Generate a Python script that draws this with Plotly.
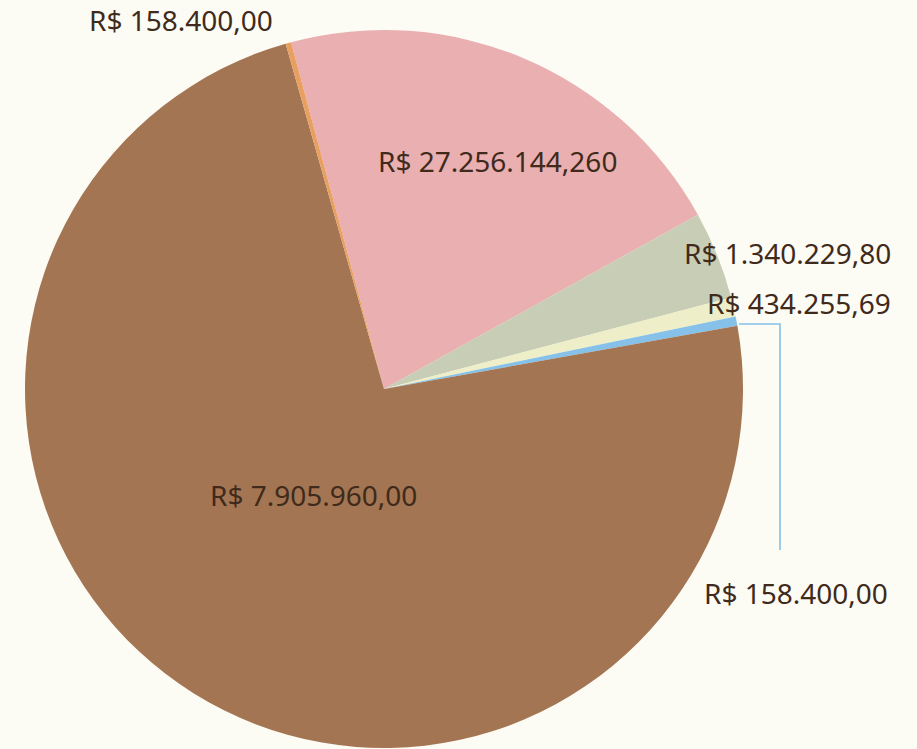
import plotly.graph_objects as go

labels = ["Pink", "Sage", "Cream", "Blue", "Brown", "Orange"]
values = [21.1, 3.97, 0.86, 0.42, 73.4, 0.25]
texts = ["R$ 27.256.144,260", "R$ 1.340.229,80", "R$ 434.255,69",
         "R$ 158.400,00", "R$ 7.905.960,00", "R$ 158.400,00"]
colors = ["#eaafb0", "#c8cdb5", "#eeefc8", "#85c1e9", "#a47552", "#e8a062"]

W, H = 917, 749
CX, CY, R = 384, 389, 359  # pie centre and radius in pixels
TEXT_COLOR = "#3f2a1b"

fig = go.Figure(go.Pie(
    labels=labels,
    values=values,
    textinfo="none",
    sort=False,
    direction="clockwise",
    rotation=-15,
    marker=dict(colors=colors, line=dict(width=0)),
    hoverinfo="label+value",
    domain=dict(x=[(CX - R) / W, (CX + R) / W],
                y=[1 - (CY + R) / H, 1 - (CY - R) / H]),
))

# label placements (pixel anchor, x anchor) for each slice, same order as data
placements = [
    (497, 161, "center"),
    (893, 253, "right"),
    (893, 303, "right"),
    (890, 593, "right"),
    (313, 495, "center"),
    (275, 20, "right"),
]

annotations = []
for txt, (px, py, xa) in zip(texts, placements):
    annotations.append(dict(
        text=txt, x=px / W, y=1 - py / H, xref="paper", yref="paper",
        xanchor=xa, yanchor="middle", showarrow=False,
        font=dict(family="Noto Sans", size=28, color=TEXT_COLOR),
    ))

# leader line for the blue slice label
def P(px, py):
    return f"{px / W},{1 - py / H}"

shapes = [dict(
    type="path", xref="paper", yref="paper",
    path=f"M {P(739, 324)} L {P(780, 324)} L {P(780, 550)}",
    line=dict(color="#85c1e9", width=1.6),
)]

fig.update_layout(
    width=W, height=H,
    paper_bgcolor="#fcfbf4",
    plot_bgcolor="#fcfbf4",
    showlegend=False,
    margin=dict(l=0, r=0, t=0, b=0),
    annotations=annotations,
    shapes=shapes,
)
fig.write_html(
    "out.html",
    config={"displayModeBar": False},
    post_script="document.body.style.margin='0';document.body.style.background='#fcfbf4';",
)
